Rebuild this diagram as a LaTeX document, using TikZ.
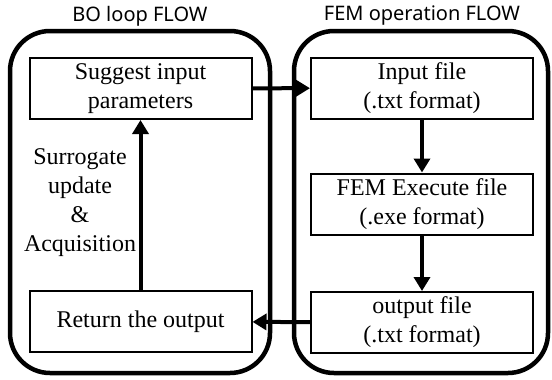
\documentclass[tikz,border=0pt]{standalone}
\usepackage{fontspec}
\setmainfont{Liberation Serif}
\newfontfamily\titlefont{Noto Sans}
\usetikzlibrary{arrows.meta}
\tikzset{
  frm/.style={draw, line width=4.5pt, rounded corners=40pt, inner sep=0pt},
  blk/.style={draw, line width=2pt, align=center, inner sep=0pt,
              font=\fontsize{24}{29}\selectfont,
              minimum width=222pt, minimum height=61pt},
  ttl/.style={font=\titlefont\fontsize{20}{22}\selectfont},
  arr/.style={-{Triangle[length=14pt,width=16pt]}, line width=4pt},
}
\begin{document}
\begin{tikzpicture}[x=1pt,y=-1pt]
  \useasboundingbox (0,0) rectangle (552,380);
  % outer frames
  \node[frm, minimum width=260pt, minimum height=342pt](bo) at (140,202){};
  \node[frm, minimum width=254pt, minimum height=342pt](fem) at (421,202){};
  \node[ttl](tbo) at (140,16){BO loop FLOW};
  \node[ttl](tfem) at (422,16){FEM operation FLOW};
  % BO loop
  \node[blk](sug) at (140.5,88.5){Suggest input\\parameters};
  \node[blk](ret) at (140.5,321.5){Return the output};
  \node[align=center, font=\fontsize{24}{29}\selectfont](lbl) at (80,203)
       {Surrogate\\update\\\&\\Acquisition};
  % FEM operation
  \node[blk](inp) at (422,88){Input file\\(.txt format)};
  \node[blk](exe) at (422,204){FEM Execute file\\(.exe format)};
  \node[blk](out) at (422,322.5){output file\\(.txt format)};
  \draw[arr](sug)--(inp); \draw[arr](inp)--(exe); \draw[arr](exe)--(out);
  \draw[arr](out)--(ret); \draw[arr](ret)--(sug);
\end{tikzpicture}
\end{document}
